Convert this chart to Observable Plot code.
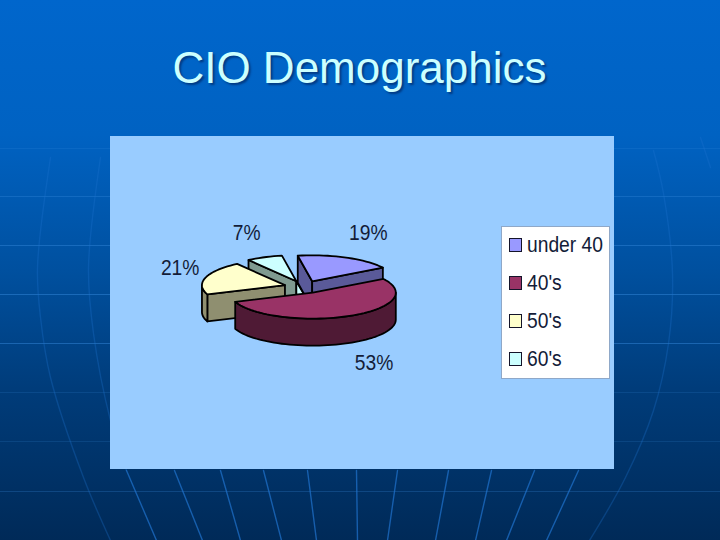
<!DOCTYPE html>
<html>
<head>
<meta charset="utf-8">
<script src="https://cdn.jsdelivr.net/npm/d3@7"></script>
<script src="https://cdn.jsdelivr.net/npm/@observablehq/plot@0.6"></script>
<style>
  html, body { margin: 0; padding: 0; width: 720px; height: 540px; overflow: hidden; }
  body {
    position: relative;
    font-family: "Liberation Sans", Arial, sans-serif;
    background: linear-gradient(#0066cc 0%, #0062c2 25%, #00509f 50%, #003c7a 72%, #002a58 100%);
  }
  #bg, #panel, #legend, h1 { position: absolute; }
  #bg { left: 0; top: 0; }
  #panel { left: 110px; top: 136px; width: 504px; height: 333px; background: #99ccff; }
  svg { display: block; background: transparent !important; }
  h1 {
    left: 0; width: 719px; top: 44px; margin: 0; text-align: center;
    font-weight: normal; font-size: 44px; line-height: 48px; color: #ccffff;
    text-shadow: 2px 2px 2px rgba(0, 20, 70, .5);
  }
  #legend {
    left: 501px; top: 226px; width: 107px; height: 151px;
    background: #fff; border: 1px solid #8fa8c8;
  }
  .row { position: absolute; left: 7px; height: 24px; font-size: 22px; line-height: 24px; color: #131c38; white-space: nowrap; }
  .row i { position: absolute; left: 0; top: 5px; width: 11px; height: 12px; border: 1.6px solid #14142a; }
  .row span { position: absolute; left: 18px; top: 0; transform: scaleX(.875); transform-origin: 0 50%; }
</style>
</head>
<body>
<script>
// ---- chart data ----
const categories = ["under 40", "40's", "50's", "60's"];
const percents = [19, 53, 21, 7];
const labels = ["19%", "53%", "21%", "7%"];
const topColors = ["#9999ff", "#993366", "#ffffcc", "#ccffff"];
const wallColors = ["#5a5a99", "#4f1a35", "#8f8f70", "#7f9a90"];
const startAngle = -10;     // degrees clockwise from 12 o'clock

// ---- pie layout (in the chart's unit scale) ----
const explode = 0.24;       // slice pull-out, in radii
const depth = 1.04;         // wall height, in vertical radii
const labelReach = [[1.89, 2.26], [1.91, 3.24], [1.56, 2.57], [1.8, 2.27]];
const rad = d3.scaleLinear().domain([0, 180]).range([0, Math.PI]);
const polar = (a) => ({x: Math.sin(rad(a)), y: Math.cos(rad(a))});

const arcs = d3.pie().sort(null).value((d) => d)
  .startAngle(rad(startAngle)).endAngle(rad(startAngle + 360))(percents)
  .map((a, i) => {
    const start = a.startAngle * 180 / Math.PI, end = a.endAngle * 180 / Math.PI, mid = (start + end) / 2;
    const m = polar(mid);
    return {i, start, end, mid, cx: m.x * explode, cy: m.y * explode};
  });

const rim = (s, from, to, drop = 0) =>
  d3.range(0, 1.0001, 1 / Math.max(2, Math.ceil((to - from) / 3))).map((t) => {
    const p = polar(from + (to - from) * t);
    return {x: s.cx + p.x, y: s.cy + p.y - drop};
  });
const hub = (s, drop = 0) => ({x: s.cx, y: s.cy - drop});

function facesOf(s) {
  const faces = [];
  const {start: a, end: b} = s;
  const wall = wallColors[s.i];
  if (Math.sin(rad(a)) < 0) {
    const e = rim(s, a, a)[0];
    faces.push({fill: wall, pts: [hub(s), e, {x: e.x, y: e.y - depth}, hub(s, depth)]});
  }
  if (Math.sin(rad(b)) > 0) {
    const e = rim(s, b, b)[0];
    faces.push({fill: wall, pts: [hub(s), e, {x: e.x, y: e.y - depth}, hub(s, depth)]});
  }
  const lo = Math.max(a, 90), hi = Math.min(b, 270);
  if (hi > lo) faces.push({fill: wall, pts: [...rim(s, lo, hi), ...rim(s, lo, hi, depth).reverse()]});
  faces.push({fill: topColors[s.i], pts: [hub(s), ...rim(s, a, b)]});
  return faces;
}

const [s19, s53, s21, s7] = arcs;
const seam = {fill: topColors[3], pts: [hub(s7), hub(s7, depth), hub(s19, depth)]};
const faces = [
  ...facesOf(s7),
  seam,
  ...facesOf(s19),
  ...facesOf(s21),
  ...facesOf(s53)
];

const texts = arcs.map((s) => {
  const p = polar(s.mid);
  return {label: labels[s.i], x: p.x * labelReach[s.i][0], y: p.y * labelReach[s.i][1]};
});

const pieMarks = faces.map((f) =>
  Plot.line(f.pts, {x: "x", y: "y", curve: "linear-closed", fill: f.fill, stroke: "#000", strokeWidth: 1.8, strokeLinejoin: "round"})
);

// ---- slide decoration ----
const ruleYs = [148, 196, 245, 294, 343, 392, 441, 491];
const ruleAlpha = [0.16, 0.28, 0.38, 0.42, 0.42, 0.16, 0.16, 0.24];
const fans = [
  [[50,157],[37,267],[40,317],[50,377],[83,477],[110,540]],
  [[100,157],[88,267],[93,333],[110,420],[126,470]],
  [[126,470],[156,540]], [[174,470],[202,540]], [[220,470],[240,540]], [[263,470],[281,540]],
  [[307,470],[316,540]], [[356,470],[357,540]], [[397,470],[387,540]], [[448,470],[435,540]],
  [[491,470],[475,540]], [[534,470],[506,540]], [[578,470],[546,540]],
  [[653,150],[663,193],[672,273],[668,343],[653,410],[625,477],[589,540]],
  [[700,137],[710,167]]
].map((pts, k) => pts.map(([x, y]) => ({x, y, k})));

const bg = Plot.plot({
  width: 720, height: 540, margin: 0,
  x: {domain: [0, 720], range: [0, 720], axis: null},
  y: {domain: [0, 540], range: [0, 540], axis: null},
  marks: [
    ...ruleYs.map((y, i) => Plot.ruleY([y], {stroke: "#3f93e6", strokeOpacity: ruleAlpha[i], strokeWidth: 1})),
    ...fans.map((f, i) => Plot.line(f, {x: "x", y: "y", curve: "catmull-rom", stroke: "#1f74cf",
      strokeOpacity: i < 2 || i > 12 ? 0.3 : 0.7, strokeWidth: 1.4}))
  ]
});
bg.id = "bg";
document.body.appendChild(bg);

const h1 = document.createElement("h1");
h1.textContent = "CIO Demographics";
document.body.appendChild(h1);

const panel = document.createElement("div");
panel.id = "panel";
const cxPage = 303.5 - 110, cyPage = 286.5 - 136;
panel.appendChild(Plot.plot({
  width: 504, height: 333, margin: 0,
  x: {domain: [-1, 1], range: [cxPage - 83, cxPage + 83], axis: null},
  y: {domain: [-1, 1], range: [cyPage + 26, cyPage - 26], axis: null},
  marks: [
    ...pieMarks,
    Plot.text(texts, {x: "x", y: "y", text: "label", fontSize: 22, fill: "#131c38", fontFamily: "Liberation Sans"})
  ]
}));
document.body.appendChild(panel);

// The reference's type is slightly condensed.
panel.querySelectorAll("text").forEach((t) => {
  t.setAttribute("lengthAdjust", "spacingAndGlyphs");
  t.setAttribute("textLength", t.getComputedTextLength() * 0.875);
});

const legend = document.createElement("div");
legend.id = "legend";
categories.forEach((c, i) => {
  const row = document.createElement("div");
  row.className = "row";
  row.style.top = (6 + i * 38) + "px";
  const sw = document.createElement("i");
  sw.style.background = topColors[i];
  const t = document.createElement("span");
  t.textContent = c;
  row.append(sw, t);
  legend.appendChild(row);
});
document.body.appendChild(legend);
</script>
</body>
</html>
